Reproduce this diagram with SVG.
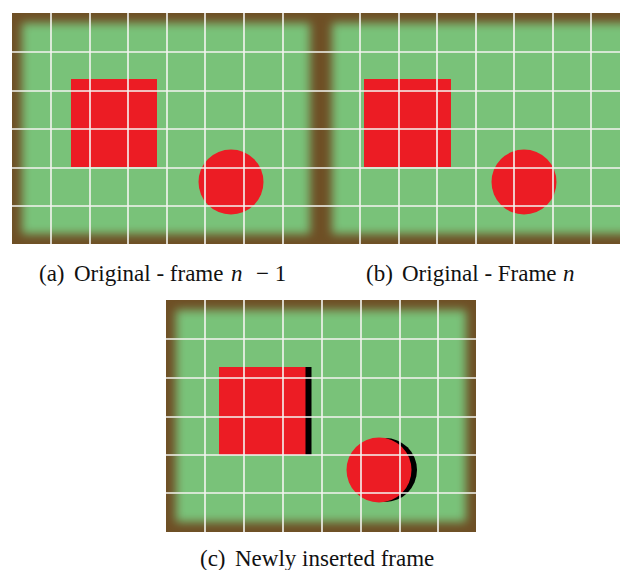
<svg xmlns="http://www.w3.org/2000/svg" width="620" height="570" viewBox="0 0 620 570">
<defs>
<filter id="soft" x="-10%" y="-10%" width="120%" height="120%"><feGaussianBlur stdDeviation="5"/></filter>
<clipPath id="ca"><rect x="12" y="13" width="308" height="231"/></clipPath>
<clipPath id="cb"><rect x="320" y="13" width="300" height="231"/></clipPath>
<clipPath id="cc"><rect x="166" y="300" width="310" height="232"/></clipPath>
</defs>
<style>
.brown{fill:#6e4f25}
.green{fill:#79c279}
.grid{stroke:#f4f4f0;stroke-width:1.6;fill:none}
.red{fill:#ec1c24}
.blk{fill:#000}
.cap{font-family:"Liberation Serif","Times New Roman",serif;font-size:23px;fill:#111}
.it{font-style:italic}
</style>
<rect width="620" height="570" fill="#fff"/>

<g id="panel-a" clip-path="url(#ca)">
<rect class="brown" x="12" y="13" width="308" height="231"/>
<rect class="green" x="22" y="23" width="288" height="211" filter="url(#soft)"/>
<rect class="red" x="71" y="79" width="86" height="88"/>
<circle class="red" cx="231" cy="182" r="32.5"/>
<path class="grid" d="M51 13V244M90 13V244M128 13V244M167 13V244M205 13V244M244 13V244M283 13V244M12 52H320M12 91H320M12 129H320M12 168H320M12 206H320"/>
</g>

<g id="panel-b" clip-path="url(#cb)">
<rect class="brown" x="320" y="13" width="300" height="231"/>
<rect class="green" x="332" y="23" width="300" height="211" filter="url(#soft)"/>
<rect class="red" x="364" y="79" width="87" height="88"/>
<circle class="red" cx="524" cy="182" r="32.5"/>
<path class="grid" d="M360 13V244M399 13V244M437 13V244M476 13V244M514 13V244M553 13V244M591 13V244M320 52H620M320 91H620M320 129H620M320 168H620M320 206H620"/>
</g>

<g id="panel-c" clip-path="url(#cc)">
<rect class="brown" x="166" y="300" width="310" height="232"/>
<rect class="green" x="176" y="310" width="290" height="212" filter="url(#soft)"/>
<rect class="red" x="219" y="367" width="87" height="88"/>
<rect class="blk" x="305.5" y="367" width="6" height="88"/>
<circle class="blk" cx="385" cy="470" r="32"/>
<circle class="red" cx="379" cy="470" r="32.5"/>
<path class="grid" d="M205 300V532M244 300V532M283 300V532M322 300V532M361 300V532M400 300V532M438 300V532M166 339H476M166 378H476M166 417H476M166 455H476M166 493H476"/>
</g>

<g id="captions">
<text class="cap" y="281"><tspan x="39">(a)</tspan><tspan x="74">Original - frame</tspan><tspan x="231" class="it">n</tspan><tspan x="256">− 1</tspan></text>
<text class="cap" y="281"><tspan x="366">(b)</tspan><tspan x="402">Original - Frame</tspan><tspan x="563" class="it">n</tspan></text>
<text class="cap" y="566"><tspan x="200">(c)</tspan><tspan x="235">Newly inserted frame</tspan></text>
</g>
</svg>
